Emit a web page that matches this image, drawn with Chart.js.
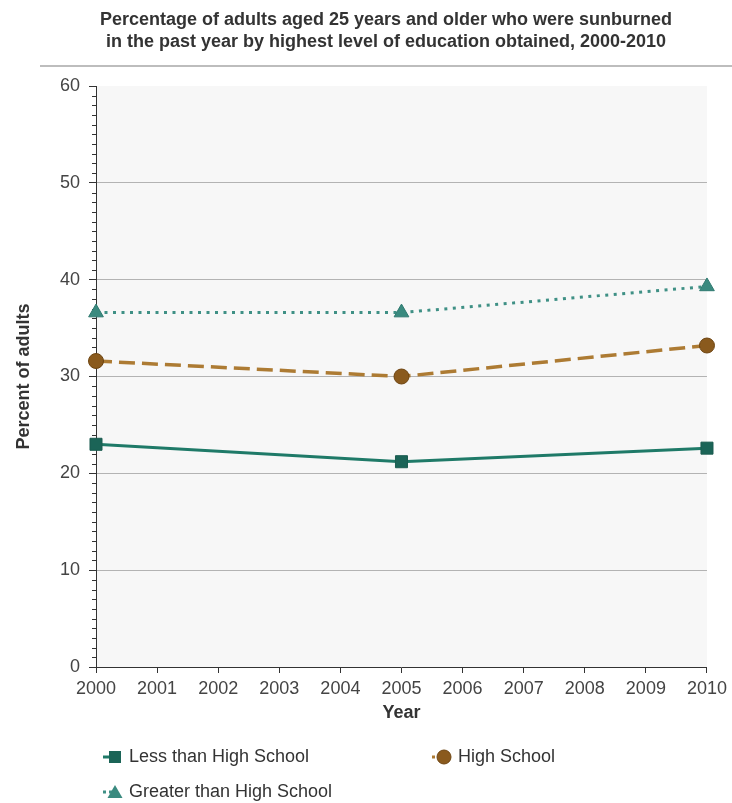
<!DOCTYPE html>
<html>
<head>
<meta charset="utf-8">
<script src="https://cdn.jsdelivr.net/npm/chart.js@4"></script>
<style>
  body { margin: 0; background: #fff; font-family: 'Liberation Sans', Arial, sans-serif; }
  #wrap { position: relative; width: 732px; height: 803px; }
  #legend { position: absolute; left: 0; top: 0; width: 732px; height: 803px; pointer-events: none; }
  .item { position: absolute; display: flex; align-items: center; font-size: 18px; color: #333; }
  .item svg { margin-right: 4px; }
</style>
</head>
<body>
<div id="wrap">
  <canvas id="chart" width="732" height="730"></canvas>
  <div id="legend"></div>
</div>
<script>
// 데이터
const years = [2000, 2005, 2010];
const lessThanHS = [23.0, 21.2, 22.6];
const highSchool = [31.6, 30.0, 33.2];
const greaterThanHS = [36.6, 36.6, 39.3];
const seriesNames = ["Less than High School", "High School", "Greater than High School"];
const titleLines = [
    "Percentage of adults aged 25 years and older who were sunburned",
    "in the past year by highest level of education obtained, 2000-2010",
];

const FONT = "'Liberation Sans', Arial, sans-serif";
Chart.defaults.font.family = FONT;

function points(values) {
    return values.map((v, i) => ({x: years[i], y: v}));
}

// 배경, 제목, 구분선, 보조 눈금
const extras = {
    id: "extras",
    beforeDraw(chart) {
        const {ctx, chartArea: a} = chart;
        ctx.save();
        ctx.fillStyle = "#f7f7f7";
        ctx.fillRect(a.left, a.top, a.right - a.left, a.bottom - a.top);
        // 구분선 (40px 부터 오른쪽 끝까지)
        ctx.strokeStyle = "#bdbdbd";
        ctx.lineWidth = 2;
        ctx.beginPath();
        ctx.moveTo(40, 66);
        ctx.lineTo(732, 66);
        ctx.stroke();
        // 제목: 구분선 가운데 정렬
        ctx.fillStyle = "#333";
        ctx.font = "bold 18px " + FONT;
        ctx.textAlign = "center";
        ctx.textBaseline = "middle";
        titleLines.forEach((t, i) => ctx.fillText(t, 386, 20 + i * 22));
        ctx.restore();
    },
    beforeDatasetsDraw(chart) {
        const {ctx} = chart;
        const y = chart.scales.y;
        ctx.save();
        ctx.strokeStyle = "#333";
        ctx.lineWidth = 1;
        ctx.beginPath();
        for (let v = 0; v <= 60; v++) {
            if (v % 10 === 0) continue;
            const py = Math.round(y.getPixelForValue(v)) + 0.5;
            ctx.moveTo(y.right - 4, py);
            ctx.lineTo(y.right, py);
        }
        ctx.stroke();
        ctx.restore();
    },
};

const datasets = [
    {
        label: seriesNames[0], data: points(lessThanHS),
        borderColor: "#1f7a68", backgroundColor: "#1b6457",
        borderWidth: 3, pointStyle: "rect", pointRadius: 8.5,
        pointBorderColor: "#1b5c50", pointBorderWidth: 1, clip: false,
    },
    {
        label: seriesNames[1], data: points(highSchool),
        borderColor: "#ad7b33", backgroundColor: "#8a5a1d",
        borderWidth: 3.5, borderDash: [16, 7], pointStyle: "circle", pointRadius: 7.5,
        pointBorderColor: "#6e4512", pointBorderWidth: 1, clip: false,
    },
    {
        label: seriesNames[2], data: points(greaterThanHS),
        borderColor: "#3f9085", backgroundColor: "#3a8a7f",
        borderWidth: 3, borderDash: [3, 5.5], pointStyle: "triangle", pointRadius: 8.5,
        pointBorderColor: "#2f7a70", pointBorderWidth: 1, clip: false,
    },
];

new Chart(document.getElementById("chart"), {
    type: "line",
    data: {datasets},
    plugins: [extras],
    options: {
        responsive: false,
        animation: false,
        layout: {padding: {left: 0, right: 23, top: 86, bottom: 0}},
        plugins: {
            legend: {display: false},
            tooltip: {enabled: false},
            title: {display: false},
        },
        scales: {
            x: {
                type: "linear", min: 2000, max: 2010,
                afterFit: s => { s.height = 63; },
                ticks: {stepSize: 1, color: "#444", font: {size: 18}, padding: 5,
                        callback: v => String(v)},
                grid: {drawOnChartArea: false, tickLength: 6, tickColor: "#333"},
                border: {color: "#333", width: 1},
                title: {display: true, text: "Year", color: "#333",
                        font: {size: 18, weight: "bold"}, padding: {top: 0, bottom: 6}},
            },
            y: {
                min: 0, max: 60,
                afterFit: s => { s.width = 96; },
                ticks: {stepSize: 10, color: "#444", font: {size: 18}, padding: 9},
                grid: {
                    tickLength: 7, tickColor: "#333",
                    color: c => (c.tick && (c.tick.value === 0 || c.tick.value === 60)) ? "rgba(0,0,0,0)" : "#b3b3b3",
                },
                border: {color: "#333", width: 1},
                title: {display: true, text: "Percent of adults", color: "#333",
                        font: {size: 18, weight: "bold"}, padding: {top: 13, bottom: 0}},
            },
        },
    },
});

// 범례 (HTML)
const legendPos = [[103, 757], [432, 757], [103, 792]];
function markerSvg(ds) {
    const c = ds.borderColor, f = ds.backgroundColor;
    const stub = `<line x1="0" y1="8" x2="12" y2="8" stroke="${c}" stroke-width="3"` +
        (ds.borderDash ? ` stroke-dasharray="3 3"` : "") + "/>";
    let mark;
    if (ds.pointStyle === "rect") mark = `<rect x="6" y="2" width="12" height="12" fill="${f}"/>`;
    else if (ds.pointStyle === "circle") mark = `<circle cx="12" cy="8" r="7" fill="${f}" stroke="${ds.pointBorderColor}"/>`;
    else mark = `<polygon points="12,1 19.5,14 4.5,14" fill="${f}"/>`;
    return `<svg width="22" height="16">${stub}${mark}</svg>`;
}
const legendEl = document.getElementById("legend");
datasets.forEach((ds, i) => {
    const el = document.createElement("div");
    el.className = "item";
    el.style.left = legendPos[i][0] + "px";
    el.style.top = (legendPos[i][1] - 11) + "px";
    el.innerHTML = markerSvg(ds) + `<span>${ds.label}</span>`;
    legendEl.appendChild(el);
});
</script>
</body>
</html>
